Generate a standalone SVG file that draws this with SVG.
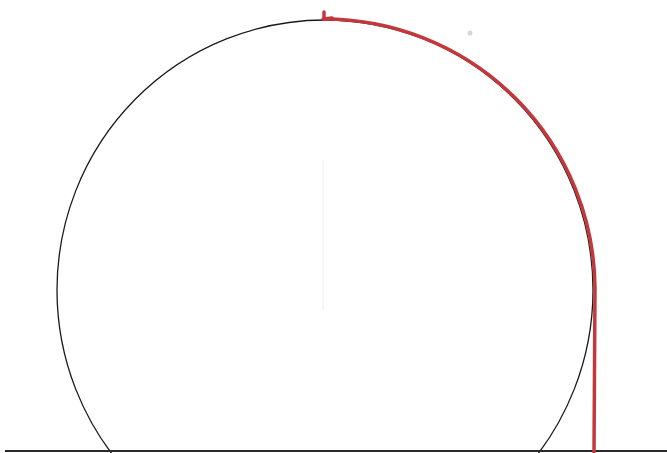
<svg xmlns="http://www.w3.org/2000/svg" width="667" height="453" viewBox="0 0 667 453">
<style>
.ink{fill:none;stroke:#1a1a1a;stroke-width:1.3}
.red{fill:none;stroke:#c3383c;stroke-width:3.5;stroke-linecap:round;stroke-linejoin:round}
</style>
<rect width="667" height="453" fill="#ffffff"/>
<line x1="323" y1="160" x2="323" y2="310" stroke="#eeeeee" stroke-width="1"/>
<circle cx="470" cy="33" r="2.5" fill="#d6d6d6"/>
<ellipse class="ink" cx="325" cy="290" rx="268" ry="270"/>
<line x1="5" y1="451" x2="667" y2="451" stroke="#2a2a2a" stroke-width="2.2"/>
<path class="red" d="M323,19 A271,271 0 0 1 595,288 L594,452"/>
<path class="red" d="M324,12 L324,19 L332,18"/>
</svg>
